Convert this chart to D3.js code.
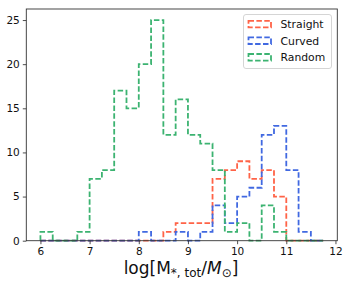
<!DOCTYPE html>
<html><head><meta charset="utf-8">
<script src="https://cdn.jsdelivr.net/npm/d3@7"></script>
<style>body{margin:0;background:#fff}svg{display:block}text{font-family:"DejaVu Sans",sans-serif}</style>
</head><body>
<script>
const binEdges = [6,6.25,6.5,6.75,7,7.25,7.5,7.75,8,8.25,8.5,8.75,9,9.25,9.5,9.75,10,10.25,10.5,10.75,11,11.25,11.5,11.75];
const straight = [0,0,0,0,0,0,0,0,0,0,1,2,2,2,7,8,9,7,8,5,0,0,0];
const curved   = [0,0,0,0,0,0,0,0,1,0,0,1,0,1,4,2,5,6,12,13,8,1,0];
const random   = [1,0,0,1,7,8,17,15,20,25,12,16,12,11,8,1,2,0,4,1,0,0,0];
const seriesNames = ["Straight","Curved","Random"];
const seriesColors = ["#ff6347","#4169e1","#3cb371"];
const xTicks = [6,7,8,9,10,11,12];
const yTicks = [0,5,10,15,20,25];

const W=349,H=286;
const m={l:26.3,r:337.3,t:9,b:240.7};
const svg=d3.select("body").append("svg").attr("width",W).attr("height",H);
const x=d3.scaleLinear().domain([5.7125,12.0375]).range([m.l,m.r]);
const y=d3.scaleLinear().domain([0,26.25]).range([m.b,m.t]);

const data=[straight,curved,random];
const line=d3.line().x(d=>x(d[0])).y(d=>y(d[1])).curve(d3.curveLinear);
data.forEach((vals,i)=>{
  const pts=[[binEdges[0],0]];
  vals.forEach((v,j)=>{pts.push([binEdges[j],v]);pts.push([binEdges[j+1],v]);});
  pts.push([binEdges[binEdges.length-1],0]);
  svg.append("path").attr("d",line(pts)).attr("fill","none")
    .attr("stroke",seriesColors[i]).attr("stroke-width",1.8)
    .attr("stroke-dasharray","5.5,2.4").attr("stroke-linejoin","miter");
});

const gx=svg.append("g").attr("transform",`translate(0,${m.b})`)
  .call(d3.axisBottom(x).tickValues(xTicks).tickSize(3.5).tickPadding(3).tickFormat(d3.format("d")));
const gy=svg.append("g").attr("transform",`translate(${m.l},0)`)
  .call(d3.axisLeft(y).tickValues(yTicks).tickSize(3.5).tickPadding(3).tickFormat(d3.format("d")));
[gx,gy].forEach(g=>{
  g.select(".domain").remove();
  g.selectAll("line").attr("stroke","#222").attr("stroke-width",0.8);
  g.selectAll("text").attr("font-size",10.5).attr("fill","#111").attr("font-family","DejaVu Sans");
});
svg.append("rect").attr("x",m.l).attr("y",m.t).attr("width",m.r-m.l).attr("height",m.b-m.t)
  .attr("fill","none").attr("stroke","#333").attr("stroke-width",0.9);

// legend
const lg=svg.append("g");
lg.append("rect").attr("x",243.5).attr("y",14.5).attr("width",88).attr("height",54).attr("rx",2.5)
  .attr("fill","#fff").attr("fill-opacity",0.8).attr("stroke","#d0d0d0").attr("stroke-width",0.9);
seriesNames.forEach((n,i)=>{
  const cy=24+i*16.6;
  lg.append("rect").attr("x",248.5).attr("y",cy-3.2).attr("width",22.5).attr("height",6.6)
    .attr("fill","none").attr("stroke",seriesColors[i]).attr("stroke-width",1.8).attr("stroke-dasharray","5.5,2.4");
  lg.append("text").attr("x",280.5).attr("y",cy+4).attr("font-size",10.8).attr("fill","#111").text(n);
});

// x label
const t=svg.append("text").attr("x",181).attr("y",274).attr("text-anchor","middle").attr("font-size",17).attr("fill","#111");
t.append("tspan").text("log[M");
t.append("tspan").attr("font-size",12).attr("dy",3).text("*, tot");
t.append("tspan").attr("dy",-3).text("/");
t.append("tspan").attr("font-style","italic").text("M");
t.append("tspan").attr("font-size",12).attr("dy",3).text("⊙");
t.append("tspan").attr("dy",-3).text("]");
</script>
</body></html>
